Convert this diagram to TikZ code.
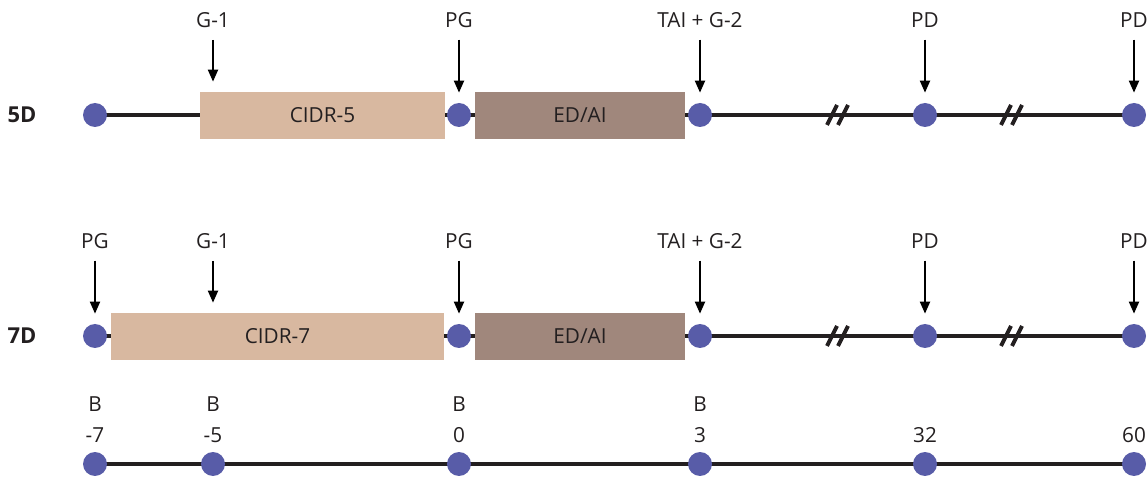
\documentclass[tikz,border=0pt]{standalone}
\usepackage{fontspec}
\setmainfont{Open Sans}
\usepackage{tikz}
\usetikzlibrary{positioning,arrows.meta}
\definecolor{dotblue}{RGB}{88,92,168}
\definecolor{cidrtan}{RGB}{216,184,160}
\definecolor{edaibrown}{RGB}{160,135,124}
\definecolor{linedark}{RGB}{35,31,32}
\tikzset{
  tline/.style={line width=0.09cm, draw=linedark},
  daydot/.style={circle, fill=dotblue, minimum size=0.48cm, inner sep=0pt},
  cidrbox/.style={fill=cidrtan, text=linedark, minimum height=0.94cm, inner sep=0pt,
                  font=\fontsize{11.8}{13}\selectfont},
  edaibox/.style={fill=edaibrown, text=linedark, minimum width=4.2cm, minimum height=0.94cm,
                  inner sep=0pt, font=\fontsize{11.8}{13}\selectfont},
  evlabel/.style={text=linedark, inner sep=0pt, text height=8.4pt, text depth=0pt,
                  font=\fontsize{11.8}{13}\selectfont},
  rowlabel/.style={text=linedark, font=\fontsize{12.5}{14}\selectfont\bfseries},
  arr/.style={-{Triangle[length=0.24cm,width=0.2cm]}, line width=0.04cm, black,
              shorten <=0.24cm, shorten >=0.2cm},
  brk/.style={line width=0.08cm, linedark}
}

\begin{document}
\begin{tikzpicture}[x=0.02cm, y=-0.02cm]
  \useasboundingbox (0,0) rectangle (1147,479);

  % 5D protocol
  \foreach \n/\x in {a/95,b/459,c/700,d/925,e/1134}
    \coordinate (p5\n) at (\x,115);
  \draw[tline] (p5a) -- (p5e);
  \node[cidrbox, minimum width=4.9cm] (cidr5) at (322.5,115.5) {CIDR-5};
  \node[edaibox] (edai5) at (580,115.5) {ED/AI};
  \foreach \x in {832,843,1006,1017}
    \draw[brk] (\x-5,125) -- (\x+5,105);
  \foreach \n in {a,b,c,d,e}
    \node[daydot] (d5\n) at (p5\n) {};
  \node[rowlabel] (row5) at (22,115) {5D};

  % events 5D
  \node[evlabel, anchor=south] (g5) at (213,28) {G-1};
  \draw[arr] (g5) -- (g5 |- cidr5.north);
  \foreach \n/\t in {b/PG,c/TAI + G-2,d/PD,e/PD}{
    \node[evlabel, above=1.5cm of d5\n] (l5\n) {\t};
    \draw[arr] (l5\n) -- (d5\n);
  }

  % 7D protocol
  \foreach \n/\x in {a/95,b/459,c/700,d/925,e/1134}
    \coordinate (p7\n) at (\x,336);
  \draw[tline] (p7a) -- (p7e);
  \node[cidrbox, minimum width=6.66cm] (cidr7) at (277.5,336.5) {CIDR-7};
  \node[edaibox] (edai7) at (580,336.5) {ED/AI};
  \foreach \x in {832,843,1006,1017}
    \draw[brk] (\x-5,346) -- (\x+5,326);
  \foreach \n in {a,b,c,d,e}
    \node[daydot] (d7\n) at (p7\n) {};
  \node[rowlabel] (row7) at (22,336) {7D};

  % events 7D
  \node[evlabel, anchor=south] (g7) at (213,249) {G-1};
  \draw[arr] (g7) -- (g7 |- cidr7.north);
  \foreach \n/\t in {a/PG,b/PG,c/TAI + G-2,d/PD,e/PD}{
    \node[evlabel, above=1.5cm of d7\n] (l7\n) {\t};
    \draw[arr] (l7\n) -- (d7\n);
  }

  % day axis
  \foreach \n/\x in {a/95,b/213,c/459,d/700,e/925,f/1134}
    \coordinate (pd\n) at (\x,464);
  \draw[tline] (pda) -- (pdf);
  \foreach \n/\v in {a/-7,b/-5,c/0,d/3,e/32,f/60}{
    \node[daydot] (dd\n) at (pd\n) {};
    \node[evlabel, above=0.18cm of dd\n] (dv\n) {\v};
  }
  \foreach \n in {a,b,c,d}
    \node[evlabel, above=0.3cm of dv\n] (db\n) {B};
\end{tikzpicture}
\end{document}
